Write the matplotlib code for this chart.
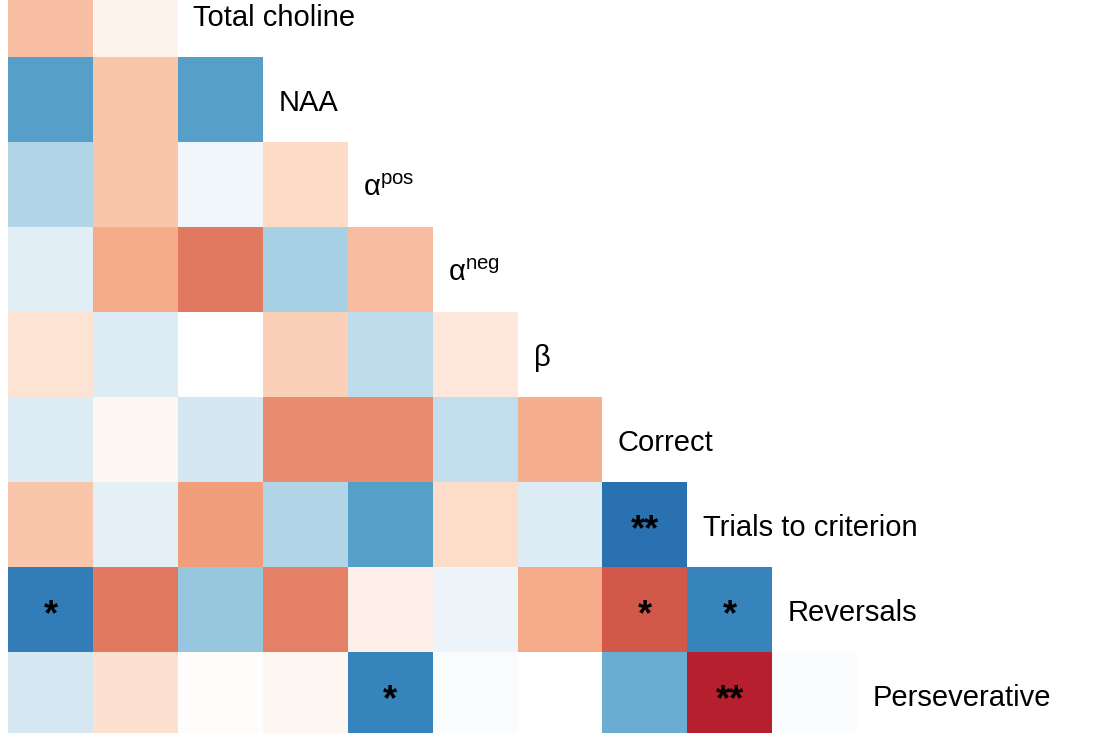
import numpy as np
import matplotlib
matplotlib.use("Agg")
import matplotlib.pyplot as plt
from matplotlib.colors import LinearSegmentedColormap

# Variable names (first two rows of the matrix are cropped off in the reference)
labels = ["", "", "Total choline", "NAA", r"$\mathregular{\alpha^{pos}}$",
          r"$\mathregular{\alpha^{neg}}$", r"$\mathregular{\beta}$", "Correct",
          "Trials to criterion", "Reversals", "Perseverative"]

# Lower-triangle correlation values, one list per row (row i has i values)
row_total_choline = [0.30, 0.07]
row_naa = [-0.55, 0.28, -0.55]
row_alpha_pos = [-0.30, 0.28, -0.07, 0.20]
row_alpha_neg = [-0.13, 0.37, 0.53, -0.33, 0.31]
row_beta = [0.15, -0.15, 0.00, 0.24, -0.26, 0.13]
row_correct = [-0.15, 0.05, -0.19, 0.47, 0.47, -0.25, 0.36]
row_trials = [0.28, -0.11, 0.42, -0.30, -0.55, 0.19, -0.15, -0.75]
row_reversals = [-0.70, 0.53, -0.39, 0.50, 0.08, -0.08, 0.38, 0.62, -0.67]
row_persev = [-0.18, 0.17, 0.01, 0.05, -0.67, -0.03, 0.00, -0.50, 0.78, -0.03]

rows = [None, None, row_total_choline, row_naa, row_alpha_pos, row_alpha_neg,
        row_beta, row_correct, row_trials, row_reversals, row_persev]

# Significance marks: (row, col, text)
sig_rows = [8, 9, 9, 9, 10, 10]
sig_cols = [7, 0, 7, 8, 4, 8]
sig_text = ["**", "*", "*", "*", "*", "**"]

n = len(labels)
M = np.full((n, n), np.nan)
for i, r in enumerate(rows):
    if r is None:
        continue
    for j, v in enumerate(r):
        M[i, j] = v

# RdBu_r with a pure white centre
cmap = LinearSegmentedColormap.from_list(
    "rdbu_white",
    ["#053061", "#2166ac", "#4393c3", "#92c5de", "#d1e5f0", "#ffffff",
     "#fddbc7", "#f4a582", "#d6604d", "#b2182b", "#67001f"])

fig = plt.figure(figsize=(11, 7.33), dpi=100)
ax = fig.add_axes([0, 0, 1, 1])
ax.pcolormesh(np.arange(n + 1), np.arange(n + 1), np.ma.masked_invalid(M),
              cmap=cmap, vmin=-1, vmax=1, edgecolors="none")

ax.set_xlim(-0.10, 12.864)
ax.set_ylim(10.956, 2.333)
ax.axis("off")

font = "Liberation Sans"
for i in range(2, n):
    ax.text(i + 0.18, i + 0.54, labels[i], fontsize=21, family=font,
            ha="left", va="center", color="black")

star_fs = 26
star_off = 0.44 * star_fs * 100 / 72 / 85.0
for r, c, t in zip(sig_rows, sig_cols, sig_text):
    ax.text(c + 0.5, r + 0.5 + star_off, t, fontsize=star_fs, family=font,
            fontweight="bold", ha="center", va="baseline", color="black")

fig.savefig("out.png", dpi=100)
